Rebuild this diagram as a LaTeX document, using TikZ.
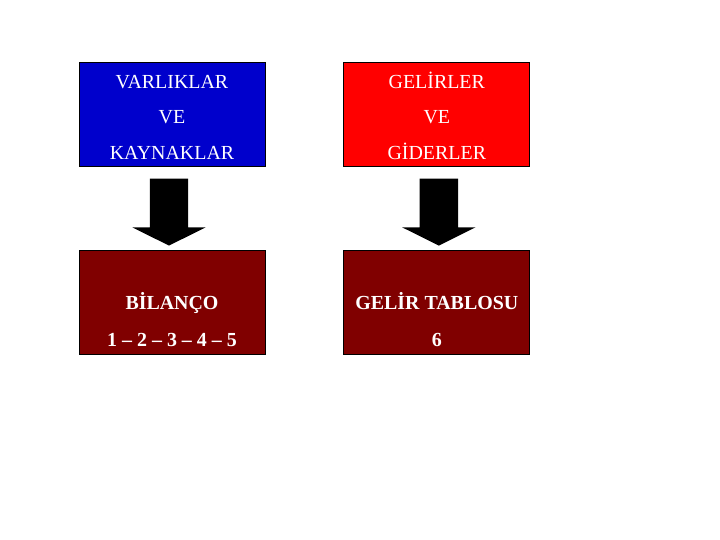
\documentclass[tikz,border=0pt]{standalone}
\usepackage{fontspec}
\setmainfont{Liberation Serif}
\usetikzlibrary{positioning}
\usetikzlibrary{shapes.arrows}
\definecolor{varlikblue}{RGB}{0,0,204}
\definecolor{gelirred}{RGB}{255,0,0}
\definecolor{tablored}{RGB}{128,0,0}
\newcommand{\ustsatir}{\rule{0pt}{20bp}}
\newcommand{\bossatir}{\rule{0pt}{14bp}}
\tikzset{kutu/.style={draw=black, line width=0.8bp, minimum width=186bp,
minimum height=104bp, text=white, align=center, inner sep=0pt,
font=\fontsize{20}{36}\selectfont},
sonuc/.style={kutu, fill=tablored, font=\fontsize{20}{37}\selectfont\bfseries},
okblok/.style={single arrow, fill=black, draw=none, rotate=-90, anchor=west,
minimum height=67bp, text height=38bp, text depth=0pt, text width=0pt,
inner sep=0pt, single arrow head extend=17.5bp, single arrow tip angle=127}}

\begin{document}
\begin{tikzpicture}[x=1bp, y=-1bp]
\useasboundingbox (0,0) rectangle (720,540);
% ust kutular
\node[kutu, fill=varlikblue] (varlik) at (172,114) {\ustsatir VARLIKLAR\\VE\\KAYNAKLAR};
\node[kutu, fill=gelirred, right=78bp of varlik] (gelir) {\ustsatir GELİRLER\\VE\\GİDERLER};
% alt kutular
\node[sonuc, below=84bp of varlik] (bilanco) {\bossatir\\BİLANÇO\\1 – 2 – 3 – 4 – 5};
\node[sonuc, below=84bp of gelir] (tablo) {\bossatir\\GELİR TABLOSU\\6};
% oklar
\node[okblok] (ok1) at ([xshift=-3bp, yshift=-12bp]varlik.south) {};
\node[okblok] (ok2) at ([xshift=2bp, yshift=-12bp]gelir.south) {};
\end{tikzpicture}
\end{document}
